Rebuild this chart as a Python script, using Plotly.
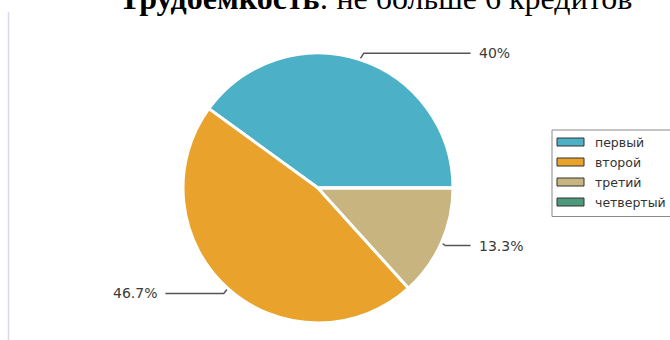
import numpy as np
import plotly.graph_objects as go

# ---- data ----
labels = ["первый", "второй", "третий", "четвертый"]
values = [40.0, 46.7, 13.3, 0.0]
pct_text = ["40%", "46.7%", "13.3%", ""]
colors = ["#4cb1c7", "#e9a22b", "#c7b47f", "#4c9a7b"]
title_bold = "Трудоемкость"
title_rest = ": не больше 6 кредитов"

# ---- layout constants (pixels) ----
W, H = 670, 340
CX, CY, R = 318, 188, 135

tot = sum(values)
fig = go.Figure()
fig.add_trace(go.Pie(
    labels=labels, values=values, sort=False, direction="counterclockwise",
    rotation=90 - 360 * values[0] / tot, textinfo="none", hoverinfo="label+percent",
    marker=dict(colors=colors, line=dict(color="white", width=3)),
    domain=dict(x=[(CX - R) / W, (CX + R) / W], y=[1 - (CY + R) / H, 1 - (CY - R) / H]),
    showlegend=False,
))

# leader lines + labels in radius units
start = 0.0
annotations = []
for v, t in zip(values, pct_text):
    frac = v / tot
    if v > 0:
        mid = np.deg2rad(360 * (start + frac / 2))
        px, py = np.cos(mid), np.sin(mid)
        s = 1 if px >= 0 else -1
        ly = 1.05 * py
        fig.add_trace(go.Scatter(
            x=[px, px + s * 0.03, s * 1.13], y=[py, ly, ly], mode="lines",
            line=dict(color="#555555", width=1.5), hoverinfo="skip", showlegend=False))
        annotations.append(dict(
            x=s * 1.175, y=ly, xref="x", yref="y", text=t, showarrow=False,
            xanchor="left" if s > 0 else "right", yanchor="middle",
            font=dict(family="DejaVu Sans", size=14, color="#3a3a3a")))
    start += frac

# custom legend (matplotlib-like)
def px2x(p):
    return (p - CX) / R

def py2y(p):
    return (CY - p) / R

shapes = []
shapes.append(dict(type="rect", xref="x", yref="y", x0=px2x(552), x1=px2x(676),
                   y0=py2y(130), y1=py2y(216.5), line=dict(color="#8a8a8a", width=1),
                   fillcolor="white", layer="above"))
for i, (lab, c) in enumerate(zip(labels, colors)):
    yc = 142 + i * 20
    shapes.append(dict(type="rect", xref="x", yref="y", x0=px2x(557), x1=px2x(584),
                       y0=py2y(yc + 4), y1=py2y(yc - 4),
                       line=dict(color="#333333", width=1), fillcolor=c, layer="above"))
    annotations.append(dict(x=px2x(593), y=py2y(yc), xref="x", yref="y", text=lab,
                            showarrow=False, xanchor="left", yanchor="middle",
                            font=dict(family="DejaVu Sans", size=12.5, color="#333333")))

# faint left border
shapes.append(dict(type="line", xref="x", yref="y", x0=px2x(8.5), x1=px2x(8.5),
                   y0=py2y(12), y1=py2y(340), line=dict(color="#dcd8ef", width=1.5)))

# title (partially cut off at top)
annotations.append(dict(
    x=px2x(375), y=py2y(18), xref="x", yref="y", xanchor="center", yanchor="bottom",
    text="<b>" + title_bold + "</b>" + title_rest, showarrow=False,
    font=dict(family="Liberation Serif", size=32, color="black")))

fig.update_layout(
    width=W, height=H, margin=dict(l=0, r=0, t=0, b=0),
    paper_bgcolor="white", plot_bgcolor="white",
    xaxis=dict(range=[px2x(0), px2x(W)], visible=False, fixedrange=True),
    yaxis=dict(range=[py2y(H), py2y(0)], visible=False, fixedrange=True),
    shapes=shapes, annotations=annotations, showlegend=False,
)

fig.write_html("out.html")
